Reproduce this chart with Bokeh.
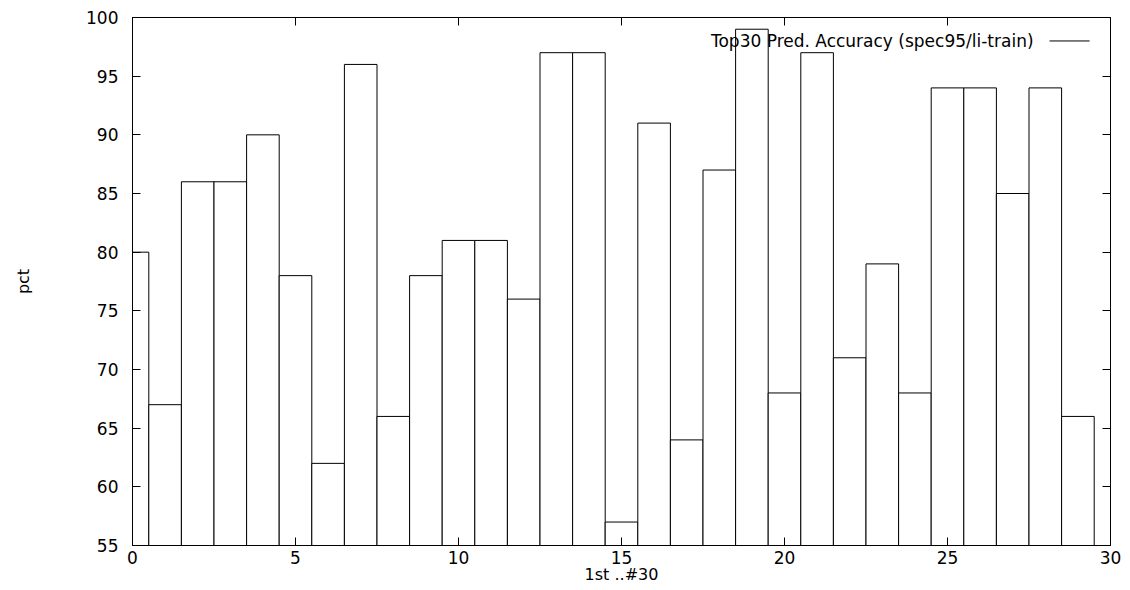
from bokeh.plotting import figure
from bokeh.models import LinearAxis, Range1d, Label, Arrow, FixedTicker
from bokeh.embed import file_html
from bokeh.resources import INLINE

ranks = list(range(30))
accuracy = [80, 67, 86, 86, 90, 78, 62, 96, 66, 78,
            81, 81, 76, 97, 97, 57, 91, 64, 87, 99,
            68, 97, 71, 79, 68, 94, 94, 85, 94, 66]
x_ticks = [0, 5, 10, 15, 20, 25, 30]
y_ticks = [55, 60, 65, 70, 75, 80, 85, 90, 95, 100]
legend_label = "Top30 Pred. Accuracy (spec95/li-train)"

FONT = "DejaVu Sans"

p = figure(width=1130, height=590, output_backend="svg", toolbar_location=None,
           x_range=Range1d(0, 30), y_range=Range1d(55, 100),
           min_border_left=132, min_border_right=20, min_border_top=17, min_border_bottom=45,
           x_axis_label="1st ..#30", y_axis_label="pct")
p.outline_line_color = "black"
p.outline_line_width = 1
p.grid.visible = False
p.background_fill_color = "white"
p.border_fill_color = "white"

p.vbar(x=ranks, top=accuracy, bottom=0, width=1,
       fill_color="white", line_color="black", line_width=1)

for ax in (p.xaxis[0], p.yaxis[0]):
    ax.major_tick_in = 8
    ax.major_tick_out = 0
    ax.minor_tick_line_color = None
    ax.axis_line_color = "black"
    ax.major_tick_line_color = "black"
    ax.major_label_text_font = FONT
    ax.major_label_text_font_size = "17px"
    ax.major_label_text_color = "black"
    ax.axis_label_text_font = FONT
    ax.axis_label_text_font_size = "16px"
    ax.axis_label_text_font_style = "normal"
    ax.axis_label_text_color = "black"

p.xaxis[0].ticker = FixedTicker(ticks=x_ticks)
p.yaxis[0].ticker = FixedTicker(ticks=y_ticks)
p.xaxis[0].major_label_standoff = 5
p.xaxis[0].axis_label_standoff = -2
p.yaxis[0].major_label_standoff = 14
p.yaxis[0].axis_label_standoff = 50

top_ax = LinearAxis(ticker=FixedTicker(ticks=x_ticks))
right_ax = LinearAxis(ticker=FixedTicker(ticks=y_ticks))
for ax in (top_ax, right_ax):
    ax.major_tick_in = 8
    ax.major_tick_out = 0
    ax.minor_tick_line_color = None
    ax.major_label_text_color = None
    ax.major_label_text_font_size = "0px"
    ax.axis_line_color = "black"
p.add_layout(top_ax, "above")
p.add_layout(right_ax, "right")

p.add_layout(Label(x=27.64, y=98.0, text=legend_label, text_font=FONT, text_font_size="17px",
                   text_align="right", text_baseline="middle", text_color="black"))
p.add_layout(Arrow(end=None, start=None, x_start=28.13, y_start=98.0, x_end=29.36, y_end=98.0,
                   line_color="black", line_width=1))

open("out.html", "w").write(file_html(p, INLINE))
